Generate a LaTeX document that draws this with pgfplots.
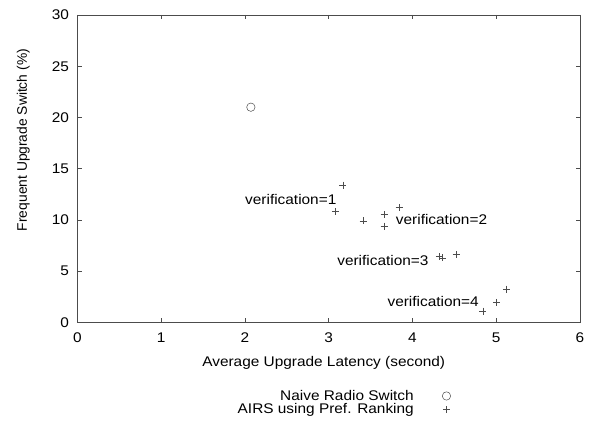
\documentclass[border=0pt]{standalone}
\usepackage{fontspec}
\setmainfont{Liberation Sans}[FakeStretch=1.1]
\newfontfamily\plainfont{Liberation Sans}
\usepackage{graphicx}
\usepackage{pgfplots}
\pgfplotsset{compat=1.18}
\begin{document}
\begin{tikzpicture}[font=\fontsize{14}{16}\selectfont]
\path[use as bounding box] (0,0) rectangle (591pt,423pt);
\begin{axis}[
  at={(77.5pt,100.7pt)}, anchor=south west,
  scale only axis, width=502.5pt, height=307.3pt,
  xmin=0, xmax=6, ymin=0, ymax=30,
  xtick={0,1,2,3,4,5,6}, ytick={0,5,10,15,20,25,30},
  /pgf/number format/assume math mode=true,
  axis line style={black!70, line width=0.6pt},
  major tick length=4pt,
  tick style={black!70, line width=0.6pt},
  xticklabel style={yshift=-7pt},
  yticklabel style={xshift=-5pt},
  xlabel={Average Upgrade Latency (second)},
  ylabel={\resizebox{182pt}{!}{\plainfont\fontsize{14}{16}\selectfont Frequent Upgrade Switch (\%)}},
  xlabel style={at={(axis description cs:0.49,-0.132)}, anchor=center},
  ylabel style={at={(axis description cs:-0.108,0.593)}, anchor=center},
  legend plot pos=right,
  legend cell align=right,
  legend style={draw=none, fill=none, at={(axis description cs:0.749,-0.212)}, anchor=north east,
    nodes={inner sep=0.5pt}, row sep=1pt, column sep=28pt},
]
\addplot[only marks, mark=o, mark size=4.2pt, black!70, line width=0.5pt] coordinates {(2.07,21.0)};
\addlegendentry{Naive Radio Switch}
\addplot[only marks, mark=+, mark size=3.5pt, black!70, line width=0.5pt] coordinates {
(3.17,13.4) (3.08,10.8) (3.41,9.9) (3.66,10.5) (3.66,9.4) (3.84,11.2)
(4.32,6.4) (4.36,6.3) (4.52,6.6)
(4.84,1.1) (5.00,1.95) (5.12,3.25)};
\addlegendentry{AIRS using Pref. Ranking}
\node[anchor=west, inner sep=0pt] at (axis cs:2.0,12) {verification=1};
\node[anchor=west, inner sep=0pt] at (axis cs:3.8,10) {verification=2};
\node[anchor=west, inner sep=0pt] at (axis cs:3.1,6) {verification=3};
\node[anchor=west, inner sep=0pt] at (axis cs:3.7,2) {verification=4};
\end{axis}
\end{tikzpicture}
\end{document}
